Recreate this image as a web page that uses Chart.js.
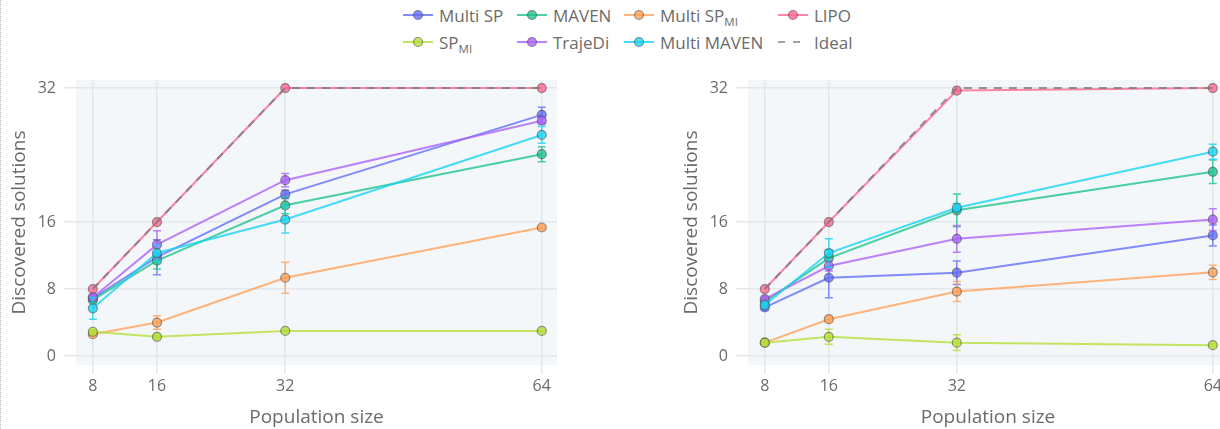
<!DOCTYPE html>
<html>
<head>
<meta charset="utf-8">
<title>Discovered solutions vs population size</title>
<script src="https://cdn.jsdelivr.net/npm/chart.js@4.4.1/dist/chart.umd.min.js"></script>
<style>
  html, body { margin: 0; padding: 0; background: #fff; }
  body { width: 1220px; height: 429px; overflow: hidden; position: relative; font-family: "Open Sans", sans-serif; }
  .edge { position: absolute; left: 0; top: 0; bottom: 0; border-left: 1px dotted #bbb; }
  .item { position: absolute; display: flex; align-items: center; height: 22px; font-size: 17px; color: #6b6b6b; white-space: nowrap; }
  .item svg { margin-right: 6px; flex: none; }
  .item sub { font-size: 11.5px; vertical-align: -4px; line-height: 0; }
  canvas { position: absolute; top: 0; }
</style>
</head>
<body>
<div class="edge"></div>
<div id="legend"></div>
<canvas id="chart-left" width="600" height="429" style="left:0"></canvas>
<canvas id="chart-right" width="568" height="429" style="left:672px"></canvas>

<script>
const popSizes = [8, 16, 32, 64];
const yTickValues = [0, 8, 16, 32];

const seriesNames = ['Multi SP', 'MAVEN', 'Multi SP_MI', 'LIPO', 'SP_MI', 'TrajeDi', 'Multi MAVEN', 'Ideal'];
const seriesColors = ['#636efa', '#1fc48e', '#ffa15a', '#ff6692', '#b5df3a', '#ab63fa', '#19d3f3', '#7a7a7a'];

// mean discovered solutions per population size, rows follow seriesNames
const leftMeans = [
    [6.9, 11.8, 19.3, 28.8],
    [6.7, 11.4, 18.0, 24.1],
    [2.6, 4.0, 9.35, 15.35],
    [8, 16, 32, 32],
    [2.9, 2.3, 3.0, 3.0],
    [7.0, 13.3, 21.0, 28.1],
    [5.7, 12.3, 16.3, 26.4],
    [8, 16, 32, 32]
];
const leftErrors = [
    [0.4, 2.1, 0.5, 0.9],
    [0.3, 1.0, 1.0, 0.9],
    [0.2, 0.8, 1.85, 0.2],
    [0, 0, 0, 0],
    [0.2, 0.2, 0.1, 0.1],
    [0.3, 1.65, 0.8, 0.4],
    [1.3, 1.0, 1.6, 1.0],
    [0, 0, 0, 0]
];

const rightMeans = [
    [5.8, 9.35, 9.95, 14.4],
    [6.5, 11.7, 17.4, 22.0],
    [1.6, 4.4, 7.7, 10.0],
    [8, 16, 31.7, 32],
    [1.6, 2.3, 1.6, 1.3],
    [6.8, 10.75, 14.0, 16.3],
    [6.1, 12.3, 17.7, 24.4],
    [8, 16, 32, 32]
];
const rightErrors = [
    [0.3, 2.4, 1.4, 1.25],
    [0.3, 1.0, 1.95, 1.4],
    [0.1, 0.3, 1.2, 0.85],
    [0, 0, 0.1, 0],
    [0.1, 0.9, 0.95, 0.2],
    [0.3, 0.6, 1.6, 1.3],
    [0.4, 1.7, 0.5, 0.9],
    [0, 0, 0, 0]
];

const TEXT_COLOR = '#6b6b6b';
const GRID_COLOR = '#e4e7ea';
const PANEL_COLOR = '#f4f7fa';
const FONT = '"Open Sans", sans-serif';

function alpha(hex, a) {
    const n = parseInt(hex.slice(1), 16);
    return `rgba(${n >> 16}, ${(n >> 8) & 255}, ${n & 255}, ${a})`;
}

// light panel behind the plotting area
const panelBackground = {
    id: 'panelBackground',
    beforeDraw(chart) {
        const { ctx, chartArea: a } = chart;
        ctx.save();
        ctx.fillStyle = PANEL_COLOR;
        ctx.fillRect(a.left, a.top, a.right - a.left, a.bottom - a.top);
        ctx.restore();
    }
};

// vertical error bars with caps, drawn under each dataset's own line
const errorBars = {
    id: 'errorBars',
    beforeDatasetDraw(chart, args) {
        const ds = chart.data.datasets[args.index];
        if (!ds.errors) return;
        const yScale = chart.scales.y;
        const ctx = chart.ctx;
        ctx.save();
        ctx.strokeStyle = ds.borderColor;
        ctx.lineWidth = 1.5;
        args.meta.data.forEach((pt, i) => {
            const err = ds.errors[i];
            if (!err) return;
            const v = ds.data[i].y;
            const top = yScale.getPixelForValue(v + err);
            const bot = yScale.getPixelForValue(v - err);
            ctx.beginPath();
            ctx.moveTo(pt.x, top); ctx.lineTo(pt.x, bot);
            ctx.moveTo(pt.x - 4, top); ctx.lineTo(pt.x + 4, top);
            ctx.moveTo(pt.x - 4, bot); ctx.lineTo(pt.x + 4, bot);
            ctx.stroke();
        });
        ctx.restore();
    }
};

function buildDatasets(means, errors) {
    return seriesNames.map((name, i) => {
        const isIdeal = name === 'Ideal';
        return {
            label: name,
            data: popSizes.map((p, j) => ({ x: p, y: means[i][j] })),
            errors: isIdeal ? null : errors[i],
            borderColor: alpha(seriesColors[i], 0.8),
            borderWidth: 2,
            borderDash: isIdeal ? [8, 7] : [],
            pointRadius: isIdeal ? 0 : 4.5,
            pointBackgroundColor: alpha(seriesColors[i], 0.8),
            pointBorderColor: 'rgba(70, 70, 70, 0.55)',
            pointBorderWidth: 1.2,
            tension: 0,
            order: seriesNames.length - i
        };
    });
}

function createChart(canvasId, means, errors, paddingRight) {
    const ctx = document.getElementById(canvasId).getContext('2d');
    return new Chart(ctx, {
        type: 'line',
        data: { datasets: buildDatasets(means, errors) },
        options: {
            responsive: false,
            animation: false,
            layout: { padding: { top: 80, left: 0, right: paddingRight, bottom: 0 } },
            plugins: { legend: { display: false }, tooltip: { enabled: false } },
            scales: {
                x: {
                    type: 'linear',
                    min: 5.9,
                    max: 65.9,
                    afterBuildTicks: scale => { scale.ticks = popSizes.map(v => ({ value: v })); },
                    afterFit: scale => { scale.height = 64; },
                    border: { display: false },
                    grid: { color: GRID_COLOR, lineWidth: 1.5, tickLength: 9 },
                    ticks: { color: TEXT_COLOR, font: { family: FONT, size: 16 }, padding: 3, maxRotation: 0 },
                    title: {
                        display: true,
                        text: 'Population size',
                        color: TEXT_COLOR,
                        font: { family: FONT, size: 19 },
                        padding: { top: 0, bottom: 0 }
                    }
                },
                y: {
                    type: 'linear',
                    min: -1.07,
                    max: 32.96,
                    afterBuildTicks: scale => { scale.ticks = yTickValues.map(v => ({ value: v })); },
                    afterFit: scale => { scale.width = 76; },
                    border: { display: false },
                    grid: { color: GRID_COLOR, lineWidth: 1.5, tickLength: 12 },
                    ticks: { color: TEXT_COLOR, font: { family: FONT, size: 16 }, padding: 8 },
                    title: {
                        display: true,
                        text: 'Discovered solutions',
                        color: TEXT_COLOR,
                        font: { family: FONT, size: 19 },
                        padding: { top: 8, bottom: 0 }
                    }
                }
            }
        },
        plugins: [panelBackground, errorBars]
    });
}

function buildLegend() {
    const legend = document.getElementById('legend');
    const columns = [403, 517, 624, 778];
    const rows = [15, 42];
    seriesNames.forEach((name, i) => {
        const color = seriesColors[i];
        const isIdeal = name === 'Ideal';
        const item = document.createElement('div');
        item.className = 'item';
        item.style.left = columns[i % 4] + 'px';
        item.style.top = (rows[Math.floor(i / 4)] - 11) + 'px';
        const icon = isIdeal
            ? `<svg width="30" height="12"><line x1="0" y1="6" x2="30" y2="6" stroke="${alpha(color, 0.7)}" stroke-width="2" stroke-dasharray="7,8"/></svg>`
            : `<svg width="30" height="12"><line x1="0" y1="6" x2="30" y2="6" stroke="${alpha(color, 0.8)}" stroke-width="2"/>` +
              `<circle cx="15" cy="6" r="4.5" fill="${alpha(color, 0.8)}" stroke="rgba(70,70,70,0.55)" stroke-width="1.2"/></svg>`;
        const parts = name.split('_');
        const label = parts.length > 1 ? `${parts[0]}<sub>${parts[1]}</sub>` : name;
        item.innerHTML = icon + `<span>${label}</span>`;
        legend.appendChild(item);
    });
}

buildLegend();
createChart('chart-left', leftMeans, leftErrors, 43);
createChart('chart-right', rightMeans, rightErrors, 12);
</script>
</body>
</html>
